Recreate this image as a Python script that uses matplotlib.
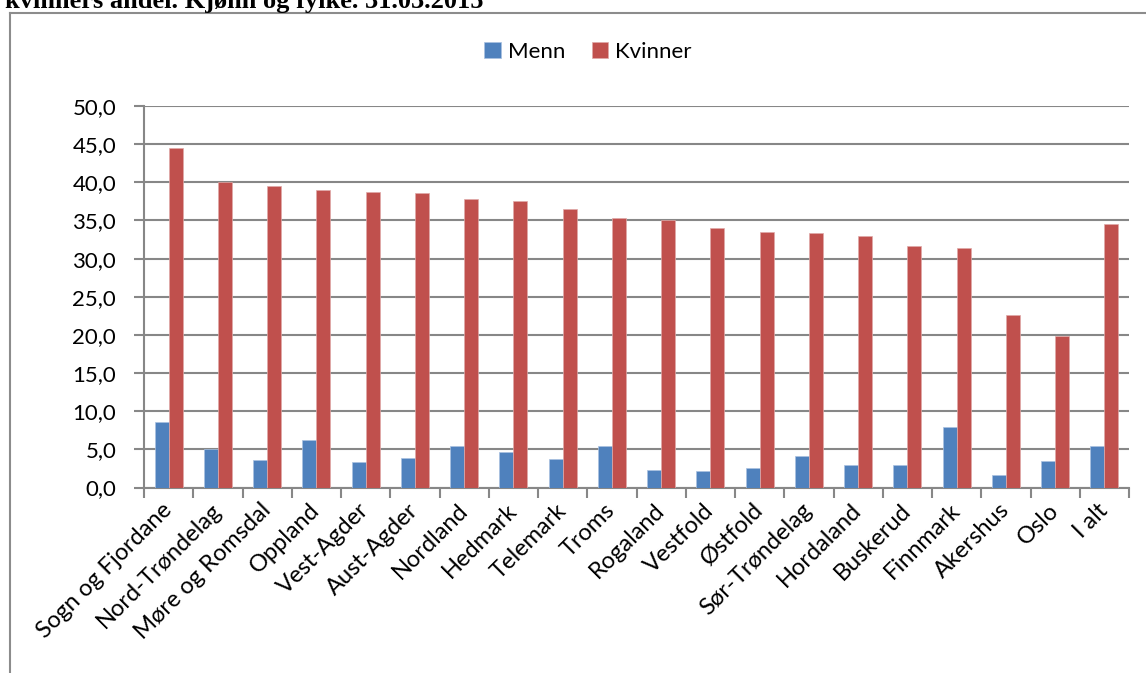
import numpy as np
import matplotlib.pyplot as plt
from matplotlib.lines import Line2D
from matplotlib.ticker import FuncFormatter, FixedLocator

plt.rcParams.update({
    "font.family": ["Lato", "DejaVu Sans"],
    "font.size": 16,
})

fylker = ["Sogn og Fjordane", "Nord-Trøndelag", "Møre og Romsdal", "Oppland",
          "Vest-Agder", "Aust-Agder", "Nordland", "Hedmark", "Telemark", "Troms",
          "Rogaland", "Vestfold", "Østfold", "Sør-Trøndelag", "Hordaland",
          "Buskerud", "Finnmark", "Akershus", "Oslo", "I alt"]
menn = [8.6, 5.0, 3.6, 6.2, 3.3, 3.9, 5.5, 4.6, 3.7, 5.5,
        2.3, 2.1, 2.6, 4.1, 3.0, 2.9, 7.9, 1.6, 3.5, 5.5]
kvinner = [44.5, 40.0, 39.5, 39.0, 38.7, 38.6, 37.8, 37.5, 36.5, 35.3,
           35.1, 34.0, 33.5, 33.4, 33.0, 31.6, 31.4, 22.6, 19.8, 34.6]

blue = "#4F81BD"
red = "#C0504D"
grey = "#878787"

fig = plt.figure(figsize=(11.46, 6.73), dpi=100)
ax = fig.add_axes([144/1146, 1-487.5/673, (1129-144)/1146, (487.5-106)/673])

x = np.arange(len(fylker))
w = 0.285
ax.bar(x - w/2, menn, w, color=blue, edgecolor="#a9c1e0", linewidth=0.5, label="Menn", zorder=3)
ax.bar(x + w/2, kvinner, w, color=red, edgecolor="#e0a9a8", linewidth=0.5, label="Kvinner", zorder=3)

ax.set_xlim(-0.5, len(fylker) - 0.5)
ax.set_ylim(0, 50)
ax.set_yticks(np.arange(0, 51, 5))
ax.yaxis.set_major_formatter(FuncFormatter(lambda v, p: f"{v:.1f}".replace(".", ",")))
ax.grid(axis="y", color=grey, linewidth=1.5, zorder=0)
ax.set_axisbelow(True)

ax.set_xticks(x)
ax.set_xticklabels(fylker, rotation=45, ha="right", rotation_mode="anchor", va="center",
                   fontsize=17)
ax.xaxis.set_minor_locator(FixedLocator(np.arange(-0.5, len(fylker), 1)))
ax.tick_params(axis="x", which="major", length=0, pad=14)
ax.tick_params(axis="x", which="minor", length=7, width=1.5, color=grey)
ax.tick_params(axis="y", length=7, width=1.5, color=grey, pad=13)

for s in ["top", "right"]:
    ax.spines[s].set_visible(False)
for s in ["left", "bottom"]:
    ax.spines[s].set_color(grey)
    ax.spines[s].set_linewidth(1.5)

fig.legend(loc="center", bbox_to_anchor=(588/1146, 1-52/673), ncol=2, frameon=False,
           handlelength=0.75, handleheight=0.75, handletextpad=0.3, columnspacing=1.2,
           fontsize=16)

# ramme rundt diagrammet (kuttet i bildet)
fig.add_artist(Line2D([10/1146, 10/1146], [1-13/673, 0], color="#8c8c8c", lw=1.5))
fig.add_artist(Line2D([10/1146, 1], [1-13/673, 1-13/673], color="#8c8c8c", lw=1.5))

fig.text(5/1146, 1-8/673, "kvinners andel. Kjønn og fylke. 31.03.2015",
         family="Liberation Serif", weight="bold", fontsize=19, va="baseline")

fig.savefig("out.png", dpi=100)
